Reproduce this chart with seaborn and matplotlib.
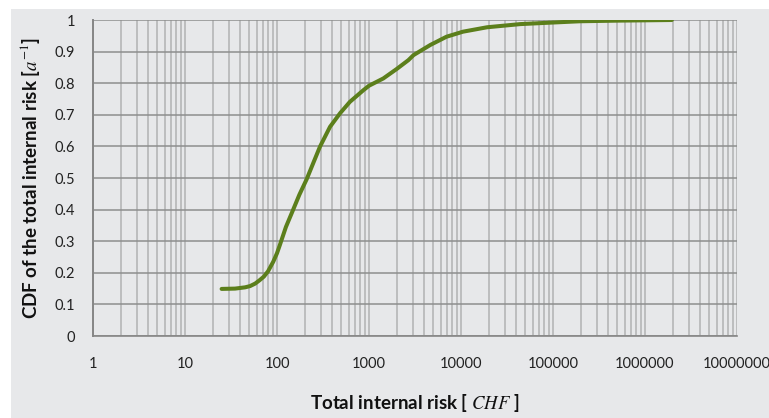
import matplotlib
matplotlib.use("Agg")
import matplotlib.pyplot as plt
from matplotlib.patches import Rectangle
from matplotlib.ticker import FixedLocator, LogLocator, NullFormatter
import numpy as np
import pandas as pd
import seaborn as sns

# Cumulative distribution of the total internal risk
risk_chf = [25, 35, 45, 51, 58, 65, 72, 80, 91, 100, 108, 125, 150, 175, 210,
            250, 293, 377, 485, 620, 870, 1000, 1430, 2000, 2680, 3050, 4640,
            6950, 10500, 19200, 44000, 84000, 196000, 500000, 1000000, 1960000]
cdf_values = [0.149, 0.150, 0.154, 0.158, 0.166, 0.177, 0.188, 0.205, 0.235,
              0.262, 0.290, 0.345, 0.400, 0.447, 0.496, 0.550, 0.599, 0.662,
              0.705, 0.741, 0.778, 0.792, 0.815, 0.845, 0.873, 0.889, 0.921,
              0.947, 0.963, 0.977, 0.987, 0.991, 0.996, 0.998, 0.999, 1.000]

x_ticks = [1, 10, 100, 1000, 10000, 100000, 1000000, 10000000]
x_tick_labels = ["1", "10", "100", "1000", "10000", "100000", "1000000", "10000000"]
y_ticks = [0, 0.1, 0.2, 0.3, 0.4, 0.5, 0.6, 0.7, 0.8, 0.9, 1.0]
y_tick_labels = ["0", "0.1", "0.2", "0.3", "0.4", "0.5", "0.6", "0.7", "0.8", "0.9", "1"]

df = pd.DataFrame({"risk": risk_chf, "cdf": cdf_values})

sns.set_style("white")
plt.rcParams["font.family"] = ["Lato", "DejaVu Sans"]
plt.rcParams["mathtext.fontset"] = "stix"

panel = "#e7e8ea"
fig = plt.figure(figsize=(7.69, 4.18), dpi=100, facecolor="white")
fig.patches.append(Rectangle((11 / 769, 0), 1 - 11 / 769, 1 - 9 / 418,
                             transform=fig.transFigure, facecolor=panel,
                             edgecolor="none", zorder=-10))
ax = fig.add_axes([93 / 769, 82 / 418, 644 / 769, 316 / 418])
ax.set_facecolor(panel)

sns.lineplot(data=df, x="risk", y="cdf", ax=ax, color="#5c7f1c",
             linewidth=2.9, zorder=5)

ax.set_xscale("log")
ax.set_xlim(1, 1e7)
ax.set_ylim(0, 1)

# Light vertical grid at every minor and major log step
ax.xaxis.set_major_locator(FixedLocator(x_ticks))
ax.xaxis.set_minor_locator(LogLocator(base=10, subs=np.arange(2, 10)))
ax.xaxis.set_minor_formatter(NullFormatter())
ax.set_xticklabels(x_tick_labels)
ax.set_yticks(y_ticks)
ax.set_yticklabels(y_tick_labels)

ax.grid(True, which="both", axis="x", color="#bcbdbe", linewidth=1.4, zorder=1)
ax.grid(True, which="major", axis="y", color="#8e8e8e", linewidth=1.1, zorder=2)
ax.set_axisbelow(True)

for side in ["top", "right"]:
    ax.spines[side].set_visible(False)
ax.spines["left"].set_color("#868686")
ax.spines["left"].set_linewidth(1.4)
ax.spines["bottom"].set_color("#868686")
ax.spines["bottom"].set_linewidth(1.2)

ax.tick_params(axis="both", which="both", length=0, labelsize=10.5,
               colors="#222222")
ax.tick_params(axis="x", pad=15)
ax.tick_params(axis="y", pad=13)

ax.set_xlabel("Total internal risk [ $\\mathit{CHF}$ ]", fontsize=13.5,
              fontweight="bold", color="#111111", labelpad=15)
ax.set_ylabel("CDF of the total internal risk [$\\mathit{a}^{-1}$]", fontsize=13.5,
              fontweight="bold", color="#111111", labelpad=9)

fig.savefig("out.png", dpi=100, facecolor="white")
